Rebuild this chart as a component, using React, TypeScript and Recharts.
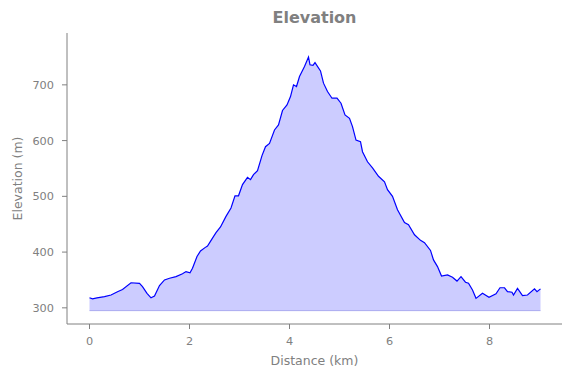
import { AreaChart, Area, XAxis, YAxis, ReferenceLine } from "recharts";

// distance along the track (km) and elevation (m)
const distKm = [
  0.0, 0.06, 0.15, 0.3, 0.43, 0.56, 0.66, 0.83, 1.0, 1.06, 1.15, 1.23, 1.3, 1.4,
  1.5, 1.6, 1.73, 1.86, 1.93, 2.01, 2.06, 2.15, 2.22, 2.31, 2.36, 2.46, 2.53,
  2.62, 2.73, 2.83, 2.91, 2.98, 3.06, 3.16, 3.22, 3.28, 3.36, 3.45, 3.52, 3.6,
  3.7, 3.78, 3.86, 3.95, 4.02, 4.08, 4.14, 4.2, 4.3, 4.38, 4.41, 4.47, 4.51,
  4.62, 4.68, 4.76, 4.85, 4.95, 5.03, 5.11, 5.2, 5.26, 5.33, 5.42, 5.46, 5.56,
  5.66, 5.78, 5.9, 5.96, 6.06, 6.16, 6.3, 6.38, 6.5, 6.62, 6.7, 6.82, 6.88,
  6.96, 7.04, 7.16, 7.26, 7.35, 7.43, 7.52, 7.58, 7.66, 7.73, 7.86, 7.99, 8.13,
  8.21, 8.3, 8.36, 8.45, 8.48, 8.56, 8.66, 8.76, 8.9, 8.95, 9.02,
];
const elevM = [
  318, 316, 318, 320, 323, 329, 333, 345, 344, 338, 326, 318, 321, 340, 350,
  353, 356, 361, 365, 363, 371, 392, 402, 408, 411, 425, 435, 445, 464, 479,
  501, 501, 521, 534, 530, 539, 546, 573, 589, 595, 619, 628, 654, 664, 679,
  700, 697, 715, 733, 750, 736, 735, 740, 725, 703, 688, 676, 676, 667, 646,
  640, 625, 601, 598, 580, 562, 551, 536, 526, 512, 500, 476, 453, 449, 431,
  421, 417, 403, 386, 374, 357, 359, 355, 348, 356, 346, 344, 332, 317, 326,
  319, 325, 336, 336, 329, 328, 323, 335, 322, 323, 334, 329, 334,
];
const xTicks = [0, 2, 4, 6, 8];
const yTicks = [300, 400, 500, 600, 700];
const fillBase = 295;

const data = distKm.map((d, i) => ({ dist: d, elev: elevM[i] }));

const grey = "#808080";
const font = "'DejaVu Sans', sans-serif";

export default function App() {
  return (
    <div style={{ position: "absolute", left: 0, top: 0, width: 571, height: 378 }}>
      <AreaChart
        width={571}
        height={378}
        data={data}
        margin={{ top: 33, right: 9, bottom: 0, left: 0 }}
      >
        <XAxis
          dataKey="dist"
          type="number"
          domain={[-0.45, 9.45]}
          ticks={xTicks}
          allowDataOverflow
          height={54}
          stroke={grey}
          tickSize={5}
          tickMargin={8}
          tick={{ fill: grey, fontSize: 11.3, fontFamily: font }}
        />
        <YAxis
          type="number"
          domain={[271, 793]}
          ticks={yTicks}
          allowDataOverflow
          width={67}
          stroke={grey}
          tickSize={5}
          tickMargin={8}
          tick={{ fill: grey, fontSize: 11.3, fontFamily: font }}
        />
        <ReferenceLine
          segment={[
            { x: 0, y: fillBase },
            { x: distKm[distKm.length - 1], y: fillBase },
          ]}
          stroke="#aaaaf0"
          strokeWidth={1}
        />
        <Area
          dataKey="elev"
          type="linear"
          baseValue={fillBase}
          stroke="#0000ff"
          strokeWidth={1.2}
          fill="#ccccff"
          fillOpacity={1}
          isAnimationActive={false}
        />
      </AreaChart>
      <svg
        width={571}
        height={378}
        style={{ position: "absolute", left: 0, top: 0, pointerEvents: "none" }}
      >
        <text x={314.5} y={23.3} textAnchor="middle" fill={grey} fontSize={16} fontWeight="bold" fontFamily={font}>
          Elevation
        </text>
        <text x={314.5} y={365} textAnchor="middle" fill={grey} fontSize={12.5} fontFamily={font}>
          Distance (km)
        </text>
        <text
          x={0}
          y={0}
          textAnchor="middle"
          fill={grey}
          fontSize={12.5}
          fontFamily={font}
          transform="translate(21.5 178.5) rotate(-90)"
        >
          Elevation (m)
        </text>
      </svg>
    </div>
  );
}
